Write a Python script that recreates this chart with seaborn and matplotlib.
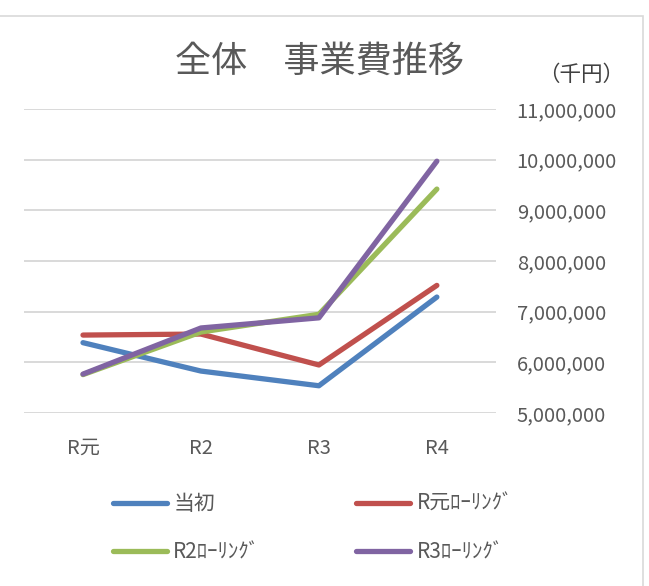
import pandas as pd
import matplotlib as mpl
mpl.use('Agg')
import matplotlib.pyplot as plt
from matplotlib.patches import Rectangle
from matplotlib.lines import Line2D
import seaborn as sns

# データ（千円）
years = ['R元', 'R2', 'R3', 'R4']
initial = [6390000, 5830000, 5540000, 7290000]
r1_rolling = [6540000, 6560000, 5950000, 7520000]
r2_rolling = [5760000, 6600000, 6950000, 9420000]
r3_rolling = [5770000, 6680000, 6880000, 9970000]
series_names = ['当初', 'R元ﾛｰﾘﾝｸﾞ', 'R2ﾛｰﾘﾝｸﾞ', 'R3ﾛｰﾘﾝｸﾞ']
colors = ['#4F81BD', '#C0504D', '#9BBB59', '#8064A2']
y_ticks = [5000000, 6000000, 7000000, 8000000, 9000000, 10000000, 11000000]

sns.set_style('white')
plt.rcParams['font.family'] = ['Noto Sans CJK JP', 'DejaVu Sans']

rows = []
for name, vals in zip(series_names, [initial, r1_rolling, r2_rolling, r3_rolling]):
    for y, v in zip(years, vals):
        rows.append({'年度': y, '事業費': v, '系列': name})
df = pd.DataFrame(rows)

fig = plt.figure(figsize=(6.49, 5.86), dpi=100)
ax = fig.add_axes([0.037, 0.295, 0.727, 0.519])

sns.lineplot(data=df, x='年度', y='事業費', hue='系列', hue_order=series_names,
             palette=colors, sort=False, linewidth=3.8, ax=ax, legend=False,
             solid_capstyle='round', solid_joinstyle='round', zorder=3)

ax.set_xlim(-0.5, 3.5)
ax.set_ylim(5000000, 11000000)
ax.set_yticks(y_ticks)
ax.set_yticklabels([f'{v:,}' for v in y_ticks])
ax.yaxis.tick_right()
ax.grid(axis='y', color='#D9D9D9', linewidth=1.4)
ax.grid(axis='x', visible=False)
for s in ax.spines.values():
    s.set_visible(False)
ax.tick_params(axis='y', length=0, pad=15, labelsize=14.5, labelcolor='#595959')
ax.tick_params(axis='x', length=0, pad=18, labelsize=14.5, labelcolor='#595959')
ax.set_xlabel('')
ax.set_ylabel('')

fig.text(0.493, 0.894, '全体　事業費推移', ha='center', va='center',
         fontsize=26, color='#595959')
fig.text(0.895, 0.872, '（千円）', ha='center', va='center',
         fontsize=15.5, color='#404040')

# 外枠
fig.patches.append(Rectangle((-0.01, -0.01), 1.0, 0.983, transform=fig.transFigure,
                             fill=False, edgecolor='#D9D9D9', linewidth=1.2))

# 凡例は行ごとに並べる
order = [0, 2, 1, 3]
handles = [Line2D([0], [0], color=colors[i], linewidth=3.8, solid_capstyle='round') for i in order]
labels = [series_names[i] for i in order]
fig.legend(handles, labels, ncol=2, loc='center left',
           bbox_to_anchor=(0.145, 0.099), frameon=False, fontsize=15,
           handlelength=2.6, handletextpad=0.3, columnspacing=4.6,
           labelspacing=1.25, labelcolor='#595959')

fig.savefig('out.png', dpi=100)
